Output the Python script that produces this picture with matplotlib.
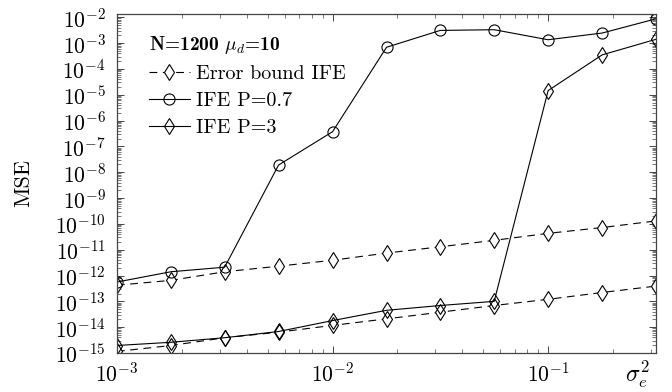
import matplotlib
matplotlib.use("Agg")
import matplotlib.pyplot as plt
import numpy as np
from matplotlib.ticker import LogLocator, NullFormatter

plt.rcParams["font.family"] = ["cmr10", "DejaVu Serif"]
plt.rcParams["mathtext.fontset"] = "cm"
plt.rcParams["axes.formatter.use_mathtext"] = True

# data
sigma_e2 = [1e-3, 1.78e-3, 3.16e-3, 5.62e-3, 1e-2, 1.78e-2, 3.16e-2, 5.62e-2, 1e-1, 1.78e-1, 3.16e-1]
bound_p07 = [4.2e-13, 6.5e-13, 1.4e-12, 2.3e-12, 3.9e-12, 7.4e-12, 1.3e-11, 2.3e-11, 4.3e-11, 7.2e-11, 1.3e-10]
bound_p3 = [1.15e-15, 1.95e-15, 3.9e-15, 6.4e-15, 1.17e-14, 2.1e-14, 3.8e-14, 6.9e-14, 1.2e-13, 2.2e-13, 3.9e-13]
ife_p07 = [5.6e-13, 1.4e-12, 2.1e-12, 1.9e-8, 3.7e-7, 6.9e-4, 3.1e-3, 3.3e-3, 1.35e-3, 2.45e-3, 8.7e-3]
ife_p3 = [1.95e-15, 2.6e-15, 3.9e-15, 6.8e-15, 1.8e-14, 4.5e-14, 6.9e-14, 1.0e-13, 1.45e-5, 3.5e-4, 1.4e-3]

fig = plt.figure(figsize=(6.72, 3.92), dpi=100)
ax = fig.add_axes([0.174, 0.0995, 0.802, 0.865])

lw = 0.8
dash_kw = dict(color="black", lw=lw, dashes=(7, 5), marker="d", markersize=8,
               markerfacecolor="white", markeredgewidth=lw)
h_bound, = ax.plot(sigma_e2, bound_p07, label="Error bound IFE", **dash_kw)
ax.plot(sigma_e2, bound_p3, **dash_kw)
h_p07, = ax.plot(sigma_e2, ife_p07, color="black", lw=lw, marker="o", markersize=8,
                 markerfacecolor="none", markeredgewidth=lw, label="IFE P=0.7")
h_p3, = ax.plot(sigma_e2, ife_p3, color="black", lw=lw, marker="d", markersize=8,
                markerfacecolor="none", markeredgewidth=lw, label="IFE P=3")

ax.set_xscale("log")
ax.set_yscale("log")
ax.set_xlim(1e-3, 3.16e-1)
ax.set_ylim(1e-15, 1.35e-2)

ax.xaxis.set_major_locator(LogLocator(base=10, numticks=20))
ax.xaxis.set_minor_locator(LogLocator(base=10, subs=np.arange(2, 10), numticks=50))
ax.xaxis.set_minor_formatter(NullFormatter())
ax.yaxis.set_major_locator(LogLocator(base=10, numticks=30))
ax.yaxis.set_minor_locator(LogLocator(base=10, subs=np.arange(2, 10), numticks=200))
ax.yaxis.set_minor_formatter(NullFormatter())

ax.tick_params(which="both", direction="in", top=True, right=True, colors="#444444",
               labelcolor="black", labelsize=15.5)
ax.tick_params(which="major", length=5, width=0.7)
ax.tick_params(which="minor", length=3, width=0.5)
ax.tick_params(axis="x", pad=6)
ax.tick_params(axis="y", pad=8)
for s in ax.spines.values():
    s.set_color("#444444")
    s.set_linewidth(0.9)

ax.set_ylabel("MSE", fontsize=16)
ax.yaxis.set_label_coords(-0.156, 0.5)
fig.text(0.948, 0.045, r"$\sigma_e^2$", fontsize=17, ha="center", va="center")

leg = ax.legend(handles=[h_bound, h_p07, h_p3], loc="upper left", bbox_to_anchor=(0.045, 0.965),
                frameon=False, fontsize=14.5, handlelength=2.0, handletextpad=0.3,
                labelspacing=0.45, borderaxespad=0,
                title=r"N=1200 $\mu_d$=10", alignment="left")
leg.get_title().set_fontsize(14)
leg.get_title().set_fontfamily(["cmb10", "DejaVu Serif"])

fig.savefig("out.png", dpi=100)
